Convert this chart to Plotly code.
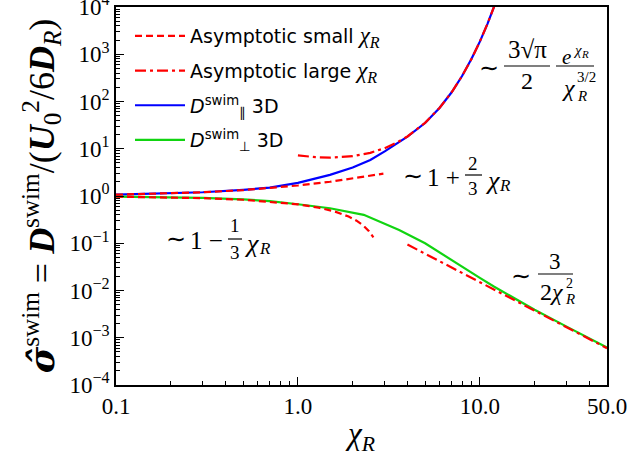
import plotly.graph_objects as go

# ---------------- data ----------------
chi_small_par = [0.1, 0.2, 0.3, 0.5, 0.7, 1.0, 1.5, 2.0, 2.5, 2.95]
sig_small_par = [1.067, 1.133, 1.2, 1.333, 1.467, 1.667, 2.0, 2.333, 2.667, 2.97]
chi_small_perp = [0.1, 0.3, 0.5, 0.8, 1.0, 1.3, 1.6, 1.9, 2.1, 2.3, 2.45, 2.6]
sig_small_perp = [0.967, 0.9, 0.833, 0.733, 0.667, 0.567, 0.467, 0.367, 0.3, 0.233, 0.183, 0.133]

chi_large_par = [1.0, 1.25, 1.5, 1.75, 2.0, 2.5, 3.0, 3.5, 4.0, 5.0, 6.0, 7.0, 8.0, 9.0, 10.0, 11.0, 12.0]
sig_large_par = [7.23, 6.64, 6.49, 6.61, 6.95, 8.19, 10.3, 13.5, 18.2, 35.3, 73.0, 157, 350, 798, 1853, 4364, 10400]
chi_large_perp = [4.0, 6.0, 10.0, 20.0, 30.0, 50.0]
sig_large_perp = [0.0938, 0.0417, 0.015, 0.00375, 0.00167, 0.0006]

chi_par = [0.1, 0.2, 0.3, 0.5, 0.7, 1.0, 1.5, 2.0, 2.5, 3.0, 3.5, 4.0, 5.0, 6.0, 7.0, 8.0, 9.0, 10.0, 11.0, 12.0]
sig_par = [1.07, 1.13, 1.2, 1.35, 1.5, 1.9, 2.8, 4.0, 5.8, 8.8, 13.0, 18.0, 35, 73, 157, 350, 800, 1850, 4350, 10400]

chi_perp = [0.1, 0.2, 0.3, 0.5, 0.7, 1.0, 1.5, 2.3, 3.6, 5.0, 6.0, 8.0, 10.0, 12.0, 15.0, 20.0, 30.0, 40.0, 50.0]
sig_perp = [0.97, 0.94, 0.91, 0.85, 0.78, 0.67, 0.55, 0.40, 0.19, 0.1, 0.064, 0.031, 0.0185, 0.012, 0.0073, 0.0039, 0.00172, 0.00096, 0.00062]

x_tickvals = [0.1, 1.0, 10.0, 50.0]
x_ticktext = ["0.1", "1.0", "10.0", "50.0"]
y_exponents = [-4, -3, -2, -1, 0, 1, 2, 3, 4]
y_tickvals = [10.0 ** e for e in y_exponents]
y_ticktext = ["10<sup>%s</sup>" % (str(e).replace("-", "\u2212")) for e in y_exponents]
x_minor = [m * 10.0 ** e for e in (-1, 0) for m in range(2, 10)] + [20.0, 30.0, 40.0]
y_minor = [m * 10.0 ** e for e in range(-4, 4) for m in range(2, 10)]

# ---------------- layout helpers ----------------
W, H = 628, 457
L, R, T, B = 116, 21, 7, 72
PW, PH = W - L - R, H - T - B
SERIF = "Liberation Serif, Times New Roman, serif"
SANS = "DejaVu Sans, sans-serif"
CHI_R = "<span style='font-family:Liberation Serif;font-size:23px'><i>χ</i><sub><i>R</i></sub></span>"
SIM = "\u223c"


def px(x):
    return (x - L) / PW


def py(y):
    return (H - B - y) / PH


annotations = []
shapes = []


def txt(s, x, y, size, italic=False, xanchor="center"):
    if italic:
        s = "<i>%s</i>" % s
    annotations.append(dict(text=s, x=px(x), y=py(y), xref="paper", yref="paper",
                            showarrow=False, xanchor=xanchor, yanchor="middle",
                            font=dict(family=SERIF, size=size, color="black")))


def bar(x0, x1, y):
    shapes.append(dict(type="line", xref="paper", yref="paper", x0=px(x0), x1=px(x1),
                       y0=py(y), y1=py(y), line=dict(color="black", width=1.2)))


# ~ 3 sqrt(pi)/2 * e^chi / chi^{3/2}
txt(SIM, 489, 68, 24)
txt("3√π", 527, 50, 25)
bar(504, 550, 66)
txt("2", 527, 81, 24)
txt("e", 566, 57, 21, italic=True)
txt("χ", 577, 50, 15, italic=True)
txt("R", 585, 54, 11, italic=True)
bar(556, 594, 66)
txt("χ", 569, 88, 24, italic=True)
txt("3/2", 586, 77, 15)
txt("R", 582, 96, 15, italic=True)

# ~ 1 + 2/3 chi_R
txt(SIM, 413, 176, 24)
txt("1 +", 443, 177, 25)
txt("2", 473, 163, 19)
bar(465, 482, 175)
txt("3", 473, 188, 19)
txt("χ", 492, 180, 26, italic=True)
txt("R", 505, 185, 17, italic=True)

# ~ 1 - 1/3 chi_R
txt(SIM, 176, 239, 24)
txt("1 \u2212", 206, 240, 25)
txt("1", 235, 226, 19)
bar(228, 242, 239)
txt("3", 235, 252, 19)
txt("χ", 251, 243, 26, italic=True)
txt("R", 265, 248, 17, italic=True)

# ~ 3 / (2 chi_R^2)
txt(SIM, 521, 276, 24)
txt("3", 555, 261, 23)
bar(538, 573, 274)
txt("2<i>χ</i>", 552, 292, 24)
txt("2", 569, 283, 14)
txt("R", 570, 299, 15, italic=True)

# ---------------- figure ----------------
fig = go.Figure()

fig.add_trace(go.Scatter(x=chi_par, y=sig_par, mode="lines", legendgroup="c",
                         name="<i>D</i><sup>swim</sup><sub>∥</sub> 3D",
                         line=dict(color="#0000ff", width=2.2), legendrank=3))
fig.add_trace(go.Scatter(x=chi_perp, y=sig_perp, mode="lines", legendgroup="d",
                         name="<i>D</i><sup>swim</sup><sub>⊥</sub> 3D",
                         line=dict(color="#11d411", width=2.2), legendrank=4))
fig.add_trace(go.Scatter(x=chi_small_par + [None] + chi_small_perp,
                         y=sig_small_par + [None] + sig_small_perp, mode="lines",
                         name="Asymptotic small " + CHI_R, connectgaps=False, legendgroup="a",
                         line=dict(color="#ff0000", width=2.2, dash="7px,4px"), legendrank=1))
fig.add_trace(go.Scatter(x=chi_large_par + [None] + chi_large_perp,
                         y=sig_large_par + [None] + sig_large_perp, mode="lines",
                         name="Asymptotic large " + CHI_R, connectgaps=False, legendgroup="b",
                         line=dict(color="#ff0000", width=2.2, dash="11px,4px,3px,4px"), legendrank=2))

axis_common = dict(type="log", showgrid=False, zeroline=False, showline=True,
                   linecolor="black", linewidth=1.5, mirror=True,
                   ticks="inside", ticklen=8, tickwidth=1.3, tickcolor="black",
                   ticklabeloverflow="allow",
                   tickfont=dict(family=SERIF, size=23, color="black"))

fig.update_xaxes(**axis_common, range=[-1, 1.69897], tickmode="array",
                 tickvals=x_tickvals, ticktext=x_ticktext,
                 minor=dict(tickmode="array", tickvals=x_minor, ticks="inside",
                            ticklen=4, tickwidth=1.1, tickcolor="black"),
                 title=dict(text="<i>χ</i><sub><i>R</i></sub>", standoff=4,
                            font=dict(family=SERIF, size=31, color="black")))
fig.update_yaxes(**axis_common, range=[-4, 4], tickmode="array",
                 tickvals=y_tickvals, ticktext=y_ticktext,
                 minor=dict(tickmode="array", tickvals=y_minor, ticks="inside",
                            ticklen=4, tickwidth=1.1, tickcolor="black"),
                 title=dict(text="<span style='font-family:DejaVu Serif'><b><i>σ̂</i></b></span><sup>swim</sup> = <b><i>D</i></b><sup>swim</sup>"
                                 "/(<b><i>U</i></b><sub>0</sub><sup>2</sup>/6<b><i>D</i></b><sub><i>R</i></sub>)",
                            standoff=4, font=dict(family=SERIF, size=36, color="black")))

fig.update_layout(
    width=W, height=H, margin=dict(l=L, r=R, t=T, b=B, autoexpand=False),
    paper_bgcolor="white", plot_bgcolor="white",
    showlegend=True,
    legend=dict(x=px(130), y=py(17), xanchor="left", yanchor="top",
                bgcolor="rgba(0,0,0,0)", borderwidth=0,
                font=dict(family=SANS, size=19, color="black"),
                traceorder="grouped", itemwidth=50, tracegroupgap=7),
    annotations=annotations, shapes=shapes,
)

fig.write_html("out.html", config={"displayModeBar": False},
               post_script="document.body.style.margin='0px';")
